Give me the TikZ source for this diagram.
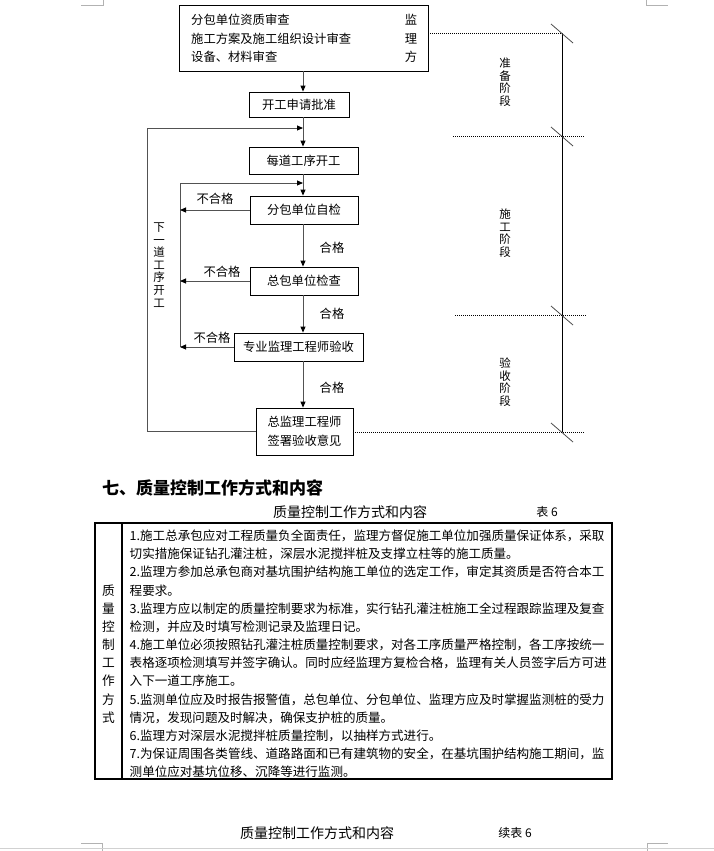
\documentclass[tikz,border=0pt]{standalone}
\usepackage{fontspec}
\setmainfont{Noto Sans CJK SC}
\usetikzlibrary{arrows.meta}
\newcommand\fsz[2][]{\fontsize{#2}{#2}\selectfont}
\begin{document}
\begin{tikzpicture}[x=1pt,y=-1pt,
  box/.style={draw, line width=0.8pt, inner sep=0pt, font=\fsz{12.3}},
  flow/.style={draw=black!68, line width=0.9pt},
  arr/.style={flow, -{Triangle[length=6pt,width=5pt,color=black]}},
  dots/.style={line width=0.7pt, dash pattern=on 0.8pt off 1.2pt},
  tickmark/.style={draw=black!70, line width=0.8pt},
  lbl/.style={font=\fsz{12.3}, inner sep=0pt},
  vlbl/.style={font=\fontsize{11.5}{12.6}\selectfont, align=center, inner sep=0pt},
  pagemark/.style={draw=black!30, line width=0.6pt},
  tbl/.style={font=\fsz{12.55}, inner sep=0pt, anchor=west}
]
\useasboundingbox (0,0) rectangle (714,851);
% page marks
\draw[pagemark] (81,5) -- (103,5) -- (103,0);
\draw[pagemark] (646,0) -- (646,5) -- (668,5);
\draw[pagemark] (81,843) -- (102,843) -- (102,851);
\draw[pagemark] (647,851) -- (647,843) -- (668,843);
\draw[draw=black!18, line width=0.8pt] (0,848) -- (714,848);

% flow boxes
\node[box, minimum width=249pt, minimum height=66pt] (b1) at (303.5,38) {};
\node[lbl, anchor=west] (t1) at (191,20) {分包单位资质审查};
\node[lbl, anchor=west] (t2) at (191,39) {施工方案及施工组织设计审查};
\node[lbl, anchor=west] (t3) at (191,57) {设备、材料审查};
\node[lbl] (m1) at (411,20) {监};
\node[lbl] (m2) at (411,39) {理};
\node[lbl] (m3) at (411,57) {方};
\node[box, minimum width=100pt, minimum height=25pt] (b2) at (299,104.5) {开工申请批准};
\node[box, minimum width=109pt, minimum height=27pt] (b3) at (303.5,160.5) {每道工序开工};
\node[box, minimum width=108pt, minimum height=28pt] (b4) at (304,210) {分包单位自检};
\node[box, minimum width=108pt, minimum height=28pt] (b5) at (304,281) {总包单位检查};
\node[box, minimum width=129pt, minimum height=28pt] (b6) at (298.5,347) {专业监理工程师验收};
\node[box, minimum width=97pt, minimum height=47pt, align=center, font=\fontsize{12.3}{19}\selectfont] (b7) at (304.5,431.5) {总监理工程师\\签署验收意见};

% main axis
\coordinate (mx) at (303,0);
\draw[arr] (b1.south -| mx) -- (b2.north -| mx);
\draw[arr] (b2.south -| mx) -- (b3.north -| mx);
\draw[arr] (b3.south -| mx) -- (b4.north -| mx);
\draw[arr] (b4.south -| mx) -- (b5.north -| mx);
\draw[arr] (b5.south -| mx) -- (b6.north -| mx);
\draw[arr] (b6.south -| mx) -- (b7.north -| mx);

% outer loop
\coordinate (j1) at (303,128);
\coordinate (oL) at (147,0);
\draw[arr] (b7.west) -- (b7.west -| oL) -- (oL |- j1) -- (j1);
\node[vlbl] (nx) at (159,265) {下\\一\\道\\工\\序\\开\\工};

% inner loop
\coordinate (j2) at (303,183);
\coordinate (iL) at (180,0);
\draw[arr] (iL |- b6.west) -- (iL |- j2) -- (j2);
\draw[arr] (b4.west) -- (b4.west -| iL);
\draw[arr] (b5.west) -- (b5.west -| iL);
\draw[arr] (b6.west) -- (b6.west -| iL);

% labels
\node[lbl] (n1) at (215,199) {不合格};
\node[lbl] (n2) at (222,272) {不合格};
\node[lbl] (n3) at (212,338) {不合格};
\node[lbl] (p1) at (332,248) {合格};
\node[lbl] (p2) at (332,314) {合格};
\node[lbl] (p3) at (332,388) {合格};

% stage line
\coordinate (s1) at (562,33);
\coordinate (s2) at (562,136);
\coordinate (s3) at (562,315);
\coordinate (s4) at (562,432);
\draw[line width=0.8pt] (s1) -- (s4);
\foreach \s in {s1,s2,s3,s4}
  \draw[tickmark] ([shift={(-11,-9)}]\s) -- ([shift={(11,10)}]\s);
\coordinate (d2) at (453,136);
\coordinate (e2) at (584,136);
\coordinate (d3) at (455,315);
\coordinate (e3) at (586,315);
\coordinate (e4) at (584,432);
\draw[dots] (b1.east |- s1) -- (s1);
\draw[dots] (d2) -- (e2);
\draw[dots] (d3) -- (e3);
\draw[dots] (b7.east |- s4) -- (e4);
\node[vlbl] (g1) at (505,82) {准\\备\\阶\\段};
\node[vlbl] (g2) at (505,233) {施\\工\\阶\\段};
\node[vlbl] (g3) at (505,382) {验\\收\\阶\\段};

% heading and captions
\node[anchor=west, inner sep=0pt, font=\fsz{17}\bfseries] (hd) at (102,488) {七、质量控制工作方式和内容};
\node[inner sep=0pt, font=\fsz{14}] (cap1) at (350,512) {质量控制工作方式和内容};
\node[inner sep=0pt, font=\fsz{12}] (tab1) at (547,512) {表 6};
\node[inner sep=0pt, font=\fsz{14}] (cap2) at (317,833) {质量控制工作方式和内容};
\node[inner sep=0pt, font=\fsz{12}] (tab2) at (515,833) {续表 6};

% table
\draw[line width=1.2pt] (95,523) rectangle (612,779);
\draw[line width=1.2pt] (122,523) -- (122,779);
\foreach \c [count=\i from 0] in {质,量,控,制,工,作,方,式}
  \node[inner sep=0pt, font=\fsz{12.7}] (lc\i) at (108.5,{590.4+18.15*\i}) {\c};
\foreach \t [count=\i from 0] in {
  {1.施工总承包应对工程质量负全面责任，监理方督促施工单位加强质量保证体系，采取},
  {切实措施保证钻孔灌注桩，深层水泥搅拌桩及支撑立柱等的施工质量。},
  {2.监理方参加总承包商对基坑围护结构施工单位的选定工作，审定其资质是否符合本工},
  {程要求。},
  {3.监理方应以制定的质量控制要求为标准，实行钻孔灌注桩施工全过程跟踪监理及复查},
  {检测，并应及时填写检测记录及监理日记。},
  {4.施工单位必须按照钻孔灌注桩质量控制要求，对各工序质量严格控制，各工序按统一},
  {表格逐项检测填写并签字确认。同时应经监理方复检合格，监理有关人员签字后方可进},
  {入下一道工序施工。},
  {5.监测单位应及时报告报警值，总包单位、分包单位、监理方应及时掌握监测桩的受力},
  {情况，发现问题及时解决，确保支护桩的质量。},
  {6.监理方对深层水泥搅拌桩质量控制，以抽样方式进行。},
  {7.为保证周围各类管线、道路路面和已有建筑物的安全，在基坑围护结构施工期间，监},
  {测单位应对基坑位移、沉降等进行监测。}}
  \node[tbl] (r\i) at (129.5,{536+18.15*\i}) {\t};
\end{tikzpicture}
\end{document}
